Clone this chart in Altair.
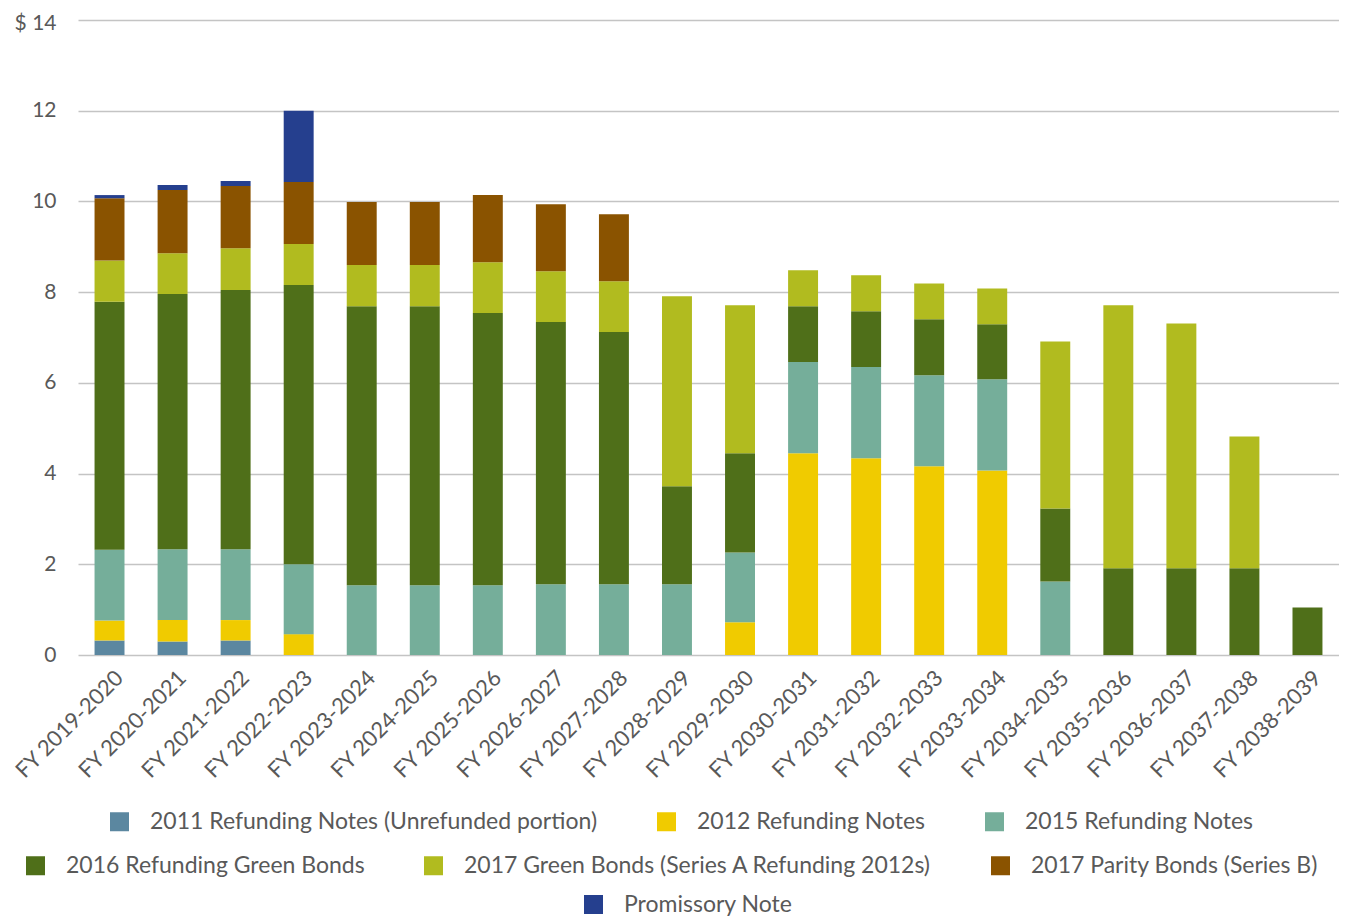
import altair as alt
import pandas as pd

years = ["FY 2019-2020", "FY 2020-2021", "FY 2021-2022", "FY 2022-2023", "FY 2023-2024",
         "FY 2024-2025", "FY 2025-2026", "FY 2026-2027", "FY 2027-2028", "FY 2028-2029",
         "FY 2029-2030", "FY 2030-2031", "FY 2031-2032", "FY 2032-2033", "FY 2033-2034",
         "FY 2034-2035", "FY 2035-2036", "FY 2036-2037", "FY 2037-2038", "FY 2038-2039"]

s2011 = [0.32, 0.30, 0.32, 0, 0, 0, 0, 0, 0, 0, 0, 0, 0, 0, 0, 0, 0, 0, 0, 0]
s2012 = [0.44, 0.47, 0.45, 0.46, 0, 0, 0, 0, 0, 0, 0.72, 4.45, 4.34, 4.16, 4.07, 0, 0, 0, 0, 0]
s2015 = [1.56, 1.56, 1.56, 1.54, 1.54, 1.54, 1.54, 1.56, 1.56, 1.56, 1.54, 2.01, 2.01, 2.01, 2.01, 1.62, 0, 0, 0, 0]
s2016 = [5.47, 5.63, 5.72, 6.16, 6.15, 6.15, 6.00, 5.78, 5.56, 2.16, 2.19, 1.23, 1.23, 1.23, 1.21, 1.61, 1.91, 1.91, 1.91, 1.05]
s2017g = [0.91, 0.90, 0.92, 0.90, 0.91, 0.91, 1.12, 1.12, 1.12, 4.19, 3.26, 0.79, 0.79, 0.79, 0.79, 3.68, 5.80, 5.40, 2.91, 0]
s2017p = [1.37, 1.39, 1.37, 1.37, 1.39, 1.39, 1.48, 1.48, 1.48, 0, 0, 0, 0, 0, 0, 0, 0, 0, 0, 0]
sprom = [0.07, 0.11, 0.11, 1.57, 0, 0, 0, 0, 0, 0, 0, 0, 0, 0, 0, 0, 0, 0, 0, 0]

series_names = ["2011 Refunding Notes (Unrefunded portion)", "2012 Refunding Notes", "2015 Refunding Notes",
                "2016 Refunding Green Bonds", "2017 Green Bonds (Series A Refunding 2012s)",
                "2017 Parity Bonds (Series B)", "Promissory Note"]
series_colors = ["#5B87A0", "#F0CB00", "#75AE9A", "#4F6F19", "#B1BB1F", "#8A5300", "#253F8E"]
series_values = [s2011, s2012, s2015, s2016, s2017g, s2017p, sprom]

rows = []
for i, (name, vals) in enumerate(zip(series_names, series_values)):
    for y, v in zip(years, vals):
        if v > 0:
            rows.append({"year": y, "series": name, "value": v, "order": i})
df = pd.DataFrame(rows)

FONT = "Lato"
TXT = "#595959"

base = alt.Chart(df).transform_stack(
    stack="value", groupby=["year"], as_=["y0", "y1"], sort=[alt.SortField("order", order="ascending")]
)

x_enc = alt.X("year:N", sort=years, title=None,
              scale=alt.Scale(paddingInner=0.525, paddingOuter=0.2625),
              axis=alt.Axis(labelAngle=-45, labelFontSize=22, labelFont=FONT, labelColor=TXT,
                            ticks=False, domain=False, labelPadding=12, labelOffset=3))
y_enc = alt.Y("y0:Q", title=None,
              scale=alt.Scale(domain=[0, 14], nice=False),
              axis=alt.Axis(values=[0, 2, 4, 6, 8, 10, 12, 14], labelFontSize=21, labelFont=FONT,
                            labelColor=TXT, ticks=False, domain=False, labelPadding=22,
                            gridColor="#c4c4c4", gridWidth=1.5,
                            labelOffset={"condition": {"test": "datum.value == 14", "value": 3}, "value": 0},
                            labelExpr="datum.value == 14 ? '$ 14' : datum.label"))

groups = [
    (series_names[0:3], series_colors[0:3], 30, 790),
    (series_names[3:6], series_colors[3:6], -54, 834),
    (series_names[6:7], series_colors[6:7], 504, 873),
]

layers = []
for names, cols, lx, ly in groups:
    layers.append(
        base.transform_filter(alt.FieldOneOfPredicate(field="series", oneOf=names))
        .mark_bar()
        .encode(
            x=x_enc,
            y=y_enc,
            y2="y1:Q",
            color=alt.Color("series:N", scale=alt.Scale(domain=names, range=cols),
                            legend=alt.Legend(title=None, orient="none", legendX=lx, legendY=ly,
                                              direction="horizontal", symbolType="square",
                                              symbolSize=361, symbolStrokeWidth=0, labelOffset=19,
                                              columnPadding=57, labelFontSize=23, labelFont=FONT,
                                              labelColor=TXT, labelLimit=700, padding=0))
        )
    )

chart = alt.layer(*layers).resolve_scale(color="independent").properties(
    width=1261, height=635,
    padding={"left": 70, "top": 12, "right": 0, "bottom": 261},
    autosize=alt.AutoSizeParams(type="none"),
).configure_view(stroke=None)

chart.save("out.html", embed_options={"renderer": "svg", "actions": False})
